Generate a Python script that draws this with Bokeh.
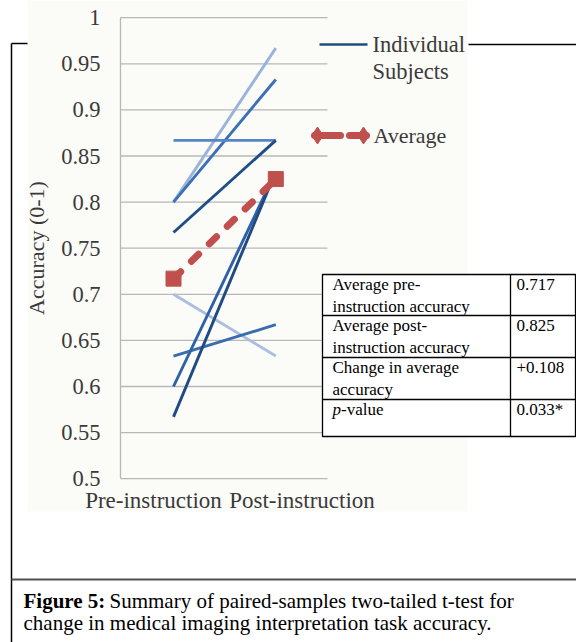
from bokeh.plotting import figure
from bokeh.models import Range1d, LinearAxis, FixedTicker, NumeralTickFormatter
from bokeh.core.properties import value
from bokeh.embed import file_html
from bokeh.resources import INLINE

# ---------------- data ----------------
categories = ["Pre-instruction", "Post-instruction"]
subject_pre = [0.800, 0.800, 0.867, 0.767, 0.700, 0.633, 0.600, 0.567]
subject_post = [0.967, 0.933, 0.867, 0.867, 0.633, 0.667, 0.833, 0.833]
subject_colors = ["#9ab4d9", "#3b70b6", "#5585c4", "#1f4d86",
                  "#a9bfdd", "#3a6cb0", "#2d60a6", "#1f4a82"]
average_accuracy = [0.717, 0.825]
y_ticks = [0.5, 0.55, 0.6, 0.65, 0.7, 0.75, 0.8, 0.85, 0.9, 0.95, 1.0]
legend_subject_lines = ["Individual", "Subjects"]
legend_average = "Average"
table_labels = [["Average pre-", "instruction accuracy"],
                ["Average post-", "instruction accuracy"],
                ["Change in average", "accuracy"]]
table_pvalue_label = ["p", "-value"]
table_values = ["0.717", "0.825", "+0.108", "0.033*"]
caption_bold = "Figure 5:"
caption_lines = ["Summary of paired-samples two-tailed t-test for",
                 "change in medical imaging interpretation task accuracy."]

FONT = value("Liberation Serif")
TXT = "#3a3a3a"
RED = "#c0504d"
GRID = "#b8b8b8"

# ---------------- geometry (page pixels) ----------------
W, H = 576, 642
PX0, PY0 = 0, 0
PRE_PX, POST_PX = 173.0, 275.3       # category centres
Y1_PX, Y05_PX = 17.2, 478.2          # y = 1.0 and y = 0.5
sx = POST_PX - PRE_PX
sy = (Y05_PX - Y1_PX) / 0.5
x_start = (PX0 - PRE_PX) / sx
x_end = (PX0 + W - PRE_PX) / sx
y_end = 1.0 + (Y1_PX - PY0) / sy
y_start = 0.5 - (PY0 + H - Y05_PX) / sy

LAB0, LAB1 = 153.0, 301.5            # centres of the category labels
lab_s = LAB1 - LAB0

p = figure(width=W, height=H,
           x_range=Range1d(x_start, x_end), y_range=Range1d(y_start, y_end),
           output_backend="svg", toolbar_location=None,
           x_axis_location=None, y_axis_location=None,
           min_border=0, min_border_left=0, min_border_right=0,
           min_border_top=0, min_border_bottom=0,
           outline_line_color=None,
           background_fill_color="white", border_fill_color="white")
p.xgrid.visible = False
p.ygrid.visible = False
p.extra_x_ranges = {"px": Range1d(PX0, PX0 + W),
                    "lab": Range1d((PX0 - LAB0) / lab_s, (PX0 + W - LAB0) / lab_s)}
p.extra_y_ranges = {"px": Range1d(PY0 + H, PY0)}

# chart image background
p.quad(left=27, right=467, top=PY0, bottom=511, x_range_name="px", y_range_name="px",
       fill_color="#fbfbf8", line_color=None)

# outer frame lines (figure box)
p.segment(x0=[11, 11, 468], y0=[43, 43, 44], x1=[11, 27, 576], y1=[642, 43, 44],
          x_range_name="px", y_range_name="px", line_color="black", line_width=1.5)
p.segment(x0=[11], y0=[579], x1=[576], y1=[579],
          x_range_name="px", y_range_name="px", line_color="#505050", line_width=2)

# horizontal gridlines
p.segment(x0=120, x1=327, y0=y_ticks, y1=y_ticks, x_range_name="px",
          line_color=GRID, line_width=1.3)

# y axis
yax = LinearAxis(x_range_name="px", fixed_location=120,
                 ticker=FixedTicker(ticks=y_ticks),
                 formatter=NumeralTickFormatter(format="0.[00]"),
                 bounds=(0.5, 1.0),
                 axis_line_color=GRID, axis_line_width=1.3,
                 major_tick_line_color=None, minor_tick_line_color=None,
                 major_tick_out=0, major_tick_in=0, major_label_standoff=20,
                 major_label_text_font="Liberation Serif",
                 major_label_text_font_size="22.5px",
                 major_label_text_color=TXT,
                 axis_label="Accuracy (0-1)",
                 axis_label_text_font="Liberation Serif",
                 axis_label_text_font_size="22px",
                 axis_label_text_font_style="normal",
                 axis_label_text_color=TXT,
                 axis_label_standoff=9)
p.add_layout(yax, "left")

# category labels
xax = LinearAxis(x_range_name="lab", fixed_location=0.5,
                 ticker=FixedTicker(ticks=list(range(len(categories)))),
                 major_label_overrides={i: c for i, c in enumerate(categories)},
                 axis_line_color=None,
                 major_tick_line_color=None, minor_tick_line_color=None,
                 major_tick_out=0, major_tick_in=0, major_label_standoff=9,
                 major_label_text_font="Liberation Serif",
                 major_label_text_font_size="23px",
                 major_label_text_color=TXT)
p.add_layout(xax, "below")

# individual subjects
cat_idx = list(range(len(categories)))
p.multi_line(xs=[cat_idx] * len(subject_pre),
             ys=[[a, b] for a, b in zip(subject_pre, subject_post)],
             line_color=subject_colors, line_width=2.9)

# average
p.line(cat_idx, average_accuracy, line_color=RED, line_width=7,
       line_dash="10 15", line_cap="round")
p.scatter(cat_idx, average_accuracy, marker="square", size=15,
          fill_color=RED, line_color=RED)

# legend (drawn by hand)
p.segment(x0=[319], y0=[44], x1=[367], y1=[44], x_range_name="px", y_range_name="px",
          line_color="#1f4e79", line_width=2.5)
p.text(x=[372, 372], y=[44, 71], text=legend_subject_lines,
       x_range_name="px", y_range_name="px",
       text_font=FONT, text_font_size="22.5px", text_color=TXT,
       text_baseline="alphabetic")
p.segment(x0=[314, 349], y0=[135, 135], x1=[340, 366], y1=[135, 135],
          x_range_name="px", y_range_name="px", line_color=RED, line_width=7,
          line_cap="round")
p.scatter(x=[317, 363], y=[135, 135], marker="diamond", size=17,
          x_range_name="px", y_range_name="px", fill_color=RED, line_color=RED)
p.text(x=[373], y=[135], text=[legend_average],
       x_range_name="px", y_range_name="px",
       text_font=FONT, text_font_size="22px", text_color=TXT,
       text_baseline="alphabetic")

# table
row_tops = [274, 315, 357, 399]
p.quad(left=322, right=575, top=274, bottom=436, x_range_name="px", y_range_name="px",
       fill_color="white", line_color="black", line_width=1.3)
p.segment(x0=[322, 322, 322, 510], y0=[315, 357, 399, 274],
          x1=[575, 575, 575, 510], y1=[315, 357, 399, 436],
          x_range_name="px", y_range_name="px", line_color="black", line_width=1.3)
tx, ty, tt = [], [], []
for top, lines in zip(row_tops, table_labels):
    for k, ln in enumerate(lines):
        tx.append(332); ty.append(top + 10 + 21.5 * k); tt.append(ln)
for top, v in zip(row_tops, table_values):
    tx.append(516); ty.append(top + 10); tt.append(v)
tx.append(340.5); ty.append(row_tops[3] + 10); tt.append(table_pvalue_label[1])
p.text(x=tx, y=ty, text=tt, x_range_name="px", y_range_name="px",
       text_font=FONT, text_font_size="17px", text_color="black",
       text_baseline="alphabetic")
p.text(x=[332], y=[row_tops[3] + 10], text=[table_pvalue_label[0]],
       x_range_name="px", y_range_name="px",
       text_font=FONT, text_font_size="17px", text_font_style="italic",
       text_color="black", text_baseline="alphabetic")

# caption
p.text(x=[23], y=[600], text=[caption_bold], x_range_name="px", y_range_name="px",
       text_font=FONT, text_font_size="21px", text_font_style="bold",
       text_color="black", text_baseline="alphabetic")
p.text(x=[109, 23], y=[600, 622], text=caption_lines, x_range_name="px", y_range_name="px",
       text_font=FONT, text_font_size="21px",
       text_color="black", text_baseline="alphabetic")

open("out.html", "w").write(file_html(p, INLINE))
